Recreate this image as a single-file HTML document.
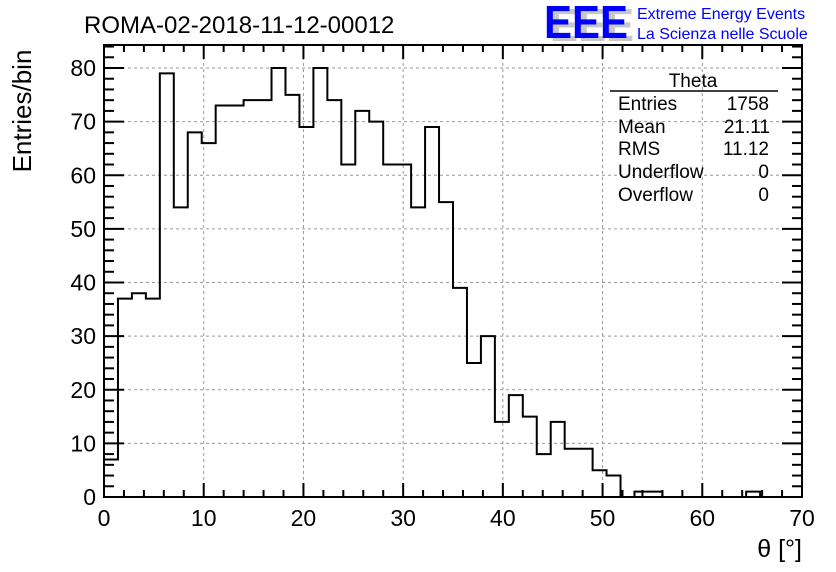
<!DOCTYPE html>
<html><head><meta charset="utf-8"><style>
html,body{margin:0;padding:0;background:#fff;}
svg{display:block;font-family:"Liberation Sans",Arial,sans-serif;}
</style></head><body>
<svg id="chart" width="836" height="572" viewBox="0 0 836 572" xmlns="http://www.w3.org/2000/svg">
<rect width="836" height="572" fill="#fff"/>
<text x="84" y="33" font-size="24" fill="#000">ROMA-02-2018-11-12-00012</text>
<g>
<text x="550" y="41" font-size="46" font-weight="bold" fill="#c8c8c8" textLength="84" lengthAdjust="spacingAndGlyphs">EEE</text>
<text x="544" y="38" font-size="46" font-weight="bold" fill="#0000ff" textLength="84" lengthAdjust="spacingAndGlyphs">EEE</text>
<text x="637" y="19" font-size="16" fill="#0000ff">Extreme Energy Events</text>
<text x="637" y="39" font-size="16" fill="#0000ff">La Scienza nelle Scuole</text>
</g>
<g id="grid"></g>
<g id="axes"></g>
<path id="hist" fill="none" stroke="#000" stroke-width="2"/>
<rect x="104" y="45" width="698" height="452" fill="none" stroke="#000" stroke-width="2"/>
<g font-size="19">
<text x="693" y="87" text-anchor="middle">Theta</text>
<line x1="610" y1="91" x2="778" y2="91" stroke="#000" stroke-width="1.5"/>
<text x="618" y="110">Entries</text><text x="769" y="110" text-anchor="end">1758</text>
<text x="618" y="133">Mean</text><text x="770" y="133" text-anchor="end">21.11</text>
<text x="618" y="155">RMS</text><text x="769" y="155" text-anchor="end">11.12</text>
<text x="618" y="178">Underflow</text><text x="769" y="178" text-anchor="end">0</text>
<text x="618" y="201">Overflow</text><text x="769" y="201" text-anchor="end">0</text>
</g>
<text transform="translate(31,111) rotate(-90)" text-anchor="middle" font-size="26">Entries/bin</text>
<text x="802" y="557" text-anchor="end" font-size="25">θ [°]</text>
</svg>
<script>
const counts = [7,37,38,37,79,54,68,66,73,73,74,74,80,75,69,80,74,62,72,70,62,62,54,69,55,39,25,30,14,19,15,8,14,9,9,5,4,0,1,1,0,0,0,0,0,0,1,0,0,0];
const xTicks = [0,10,20,30,40,50,60,70];
const yTicks = [0,10,20,30,40,50,60,70,80];
const xMin=0,xMax=70,binW=1.4;
const X=v=>104+(v-xMin)/(xMax-xMin)*698;
const Y=v=>497-v/80*429;
const NS="http://www.w3.org/2000/svg";
const grid=document.getElementById('grid'), axes=document.getElementById('axes');
function mk(tag,attrs,parent){const e=document.createElementNS(NS,tag);for(const k in attrs)e.setAttribute(k,attrs[k]);parent.appendChild(e);return e;}
xTicks.forEach(t=>{
  if(t>0&&t<70){const g=mk('line',{x1:X(t),x2:X(t),y1:45,y2:497,stroke:'#999','stroke-dasharray':'3,3','stroke-width':1},grid);
  
  }
  const l=mk('text',{x:X(t),y:526,'text-anchor':'middle','font-size':23},axes);
  
  
  l.textContent=t;
});
yTicks.forEach(t=>{
  if(t>0){const g=mk('line',{x1:104,x2:802,y1:Y(t),y2:Y(t),stroke:'#999','stroke-dasharray':'3,3','stroke-width':1},grid);
  
  }
  const l=mk('text',{x:96,y:Y(t)+8,'text-anchor':'end','font-size':23},axes);
  
  
  l.textContent=t;
});
for(let v=0;v<=70;v+=2){const big=v%10===0;const len=big?14:7;
  mk('line',{x1:X(v),x2:X(v),y1:497,y2:497-len,stroke:'#000','stroke-width':2},axes);
  mk('line',{x1:X(v),x2:X(v),y1:45,y2:45+len,stroke:'#000','stroke-width':2},axes);}
for(let v=0;v<=84;v+=2){const y=Y(v);if(y<45)break;const big=v%10===0;const len=big?20:10;
  mk('line',{x1:104,x2:104+len,y1:y,y2:y,stroke:'#000','stroke-width':2},axes);
  mk('line',{x1:802,x2:802-len,y1:y,y2:y,stroke:'#000','stroke-width':2},axes);}
let d='M'+X(0)+','+Y(0);
counts.forEach((c,i)=>{d+=' L'+X(i*binW)+','+Y(c)+' L'+X((i+1)*binW)+','+Y(c);});
d+=' L'+X(counts.length*binW)+','+Y(0);
document.getElementById('hist').setAttribute('d',d);
</script>
</body></html>
